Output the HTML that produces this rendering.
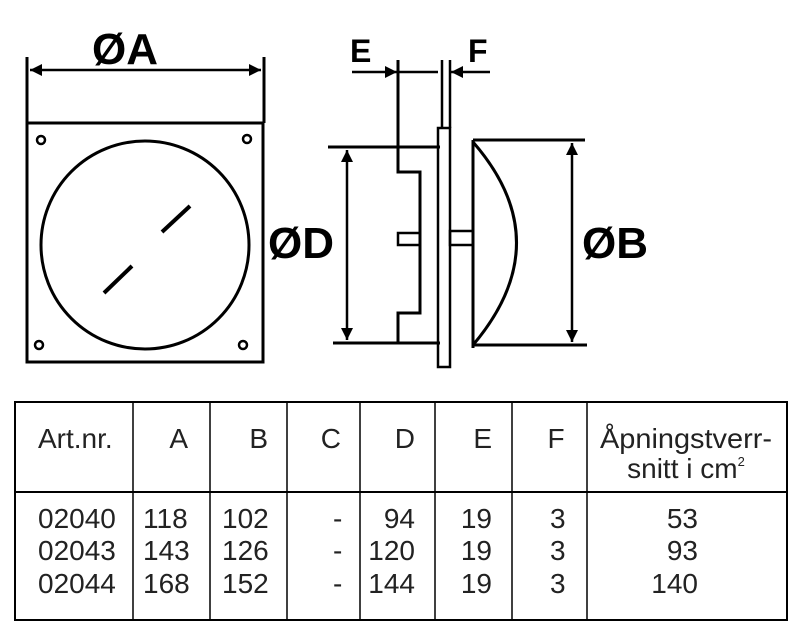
<!DOCTYPE html>
<html><head><style>
body{margin:0;background:#fff;width:800px;height:640px;overflow:hidden;font-family:"Liberation Sans",sans-serif}
svg{position:absolute;left:0;top:0}
</style></head><body>
<svg width="800" height="640" viewBox="0 0 800 640">
<defs>
<marker id="ar" viewBox="0 0 10 10" refX="10" refY="5" markerWidth="16" markerHeight="12" orient="auto-start-reverse" markerUnits="userSpaceOnUse"><path d="M0,0 L10,5 L0,10 z" fill="#000"/></marker>
</defs>
<g stroke="#000" stroke-width="3" fill="none">
<rect x="27" y="123" width="236" height="239"/>
<line x1="27" y1="57" x2="27" y2="123"/><line x1="264" y1="57" x2="264" y2="123"/>
<line x1="30" y1="70" x2="261" y2="70" marker-start="url(#ar)" marker-end="url(#ar)" stroke-width="2.5"/>
<circle cx="145" cy="245" r="104"/>
<circle cx="41" cy="140" r="4" stroke-width="2.5"/><circle cx="247" cy="139" r="4" stroke-width="2.5"/>
<circle cx="39" cy="345" r="4" stroke-width="2.5"/><circle cx="243" cy="345" r="4" stroke-width="2.5"/>
<line x1="190" y1="206" x2="162" y2="232" stroke-width="4"/>
<line x1="132" y1="266" x2="104" y2="293" stroke-width="4"/>
<line x1="328" y1="147" x2="440" y2="147"/><line x1="333" y1="343" x2="440" y2="343"/>
<line x1="347" y1="150" x2="347" y2="340" marker-start="url(#ar)" marker-end="url(#ar)" stroke-width="2.5"/>
<polyline points="398,60 398,172 420,172 420,313 398,313 398,343"/>
<rect x="438" y="128" width="12" height="239" stroke-width="2.5"/>
<line x1="442" y1="60" x2="442" y2="128" stroke-width="2.5"/><line x1="450" y1="60" x2="450" y2="128" stroke-width="2.5"/>
<rect x="398" y="233" width="22" height="12" stroke-width="2.5"/>
<rect x="450" y="231" width="23" height="14" stroke-width="2.5"/>
<line x1="473" y1="140" x2="473" y2="348"/>
<line x1="473" y1="140" x2="585" y2="140"/><line x1="473" y1="345" x2="587" y2="345"/>
<path d="M473,142 Q560,242 473,345"/>
<line x1="572" y1="143" x2="572" y2="342" marker-start="url(#ar)" marker-end="url(#ar)" stroke-width="2.5"/>
<line x1="352" y1="72" x2="397" y2="72" marker-end="url(#ar)" stroke-width="2.5"/>
<line x1="398" y1="72" x2="438" y2="72" stroke-width="2.5"/>
<line x1="490" y1="72" x2="451" y2="72" marker-end="url(#ar)" stroke-width="2.5"/>
<rect x="15" y="402" width="772" height="218" stroke-width="2"/>
<line x1="15" y1="492" x2="787" y2="492" stroke-width="2"/>
<g stroke-width="1.5">
<line x1="133" y1="402" x2="133" y2="620"/><line x1="210" y1="402" x2="210" y2="620"/>
<line x1="287" y1="402" x2="287" y2="620"/><line x1="360" y1="402" x2="360" y2="620"/>
<line x1="435" y1="402" x2="435" y2="620"/><line x1="512" y1="402" x2="512" y2="620"/>
<line x1="587" y1="402" x2="587" y2="620"/>
</g>
</g>
<g font-family="Liberation Sans, sans-serif" font-weight="bold" font-size="44" fill="#000">
<text x="92" y="64">ØA</text>
<text x="268" y="258">ØD</text>
<text x="582" y="258">ØB</text>
<text x="350" y="62" font-size="32">E</text>
<text x="468" y="62" font-size="32">F</text>
</g>
<g font-family="Liberation Sans, sans-serif" font-size="28" fill="#222">
<text x="38" y="448">Art.nr.</text>
<text x="188" y="448" text-anchor="end">A</text>
<text x="268" y="448" text-anchor="end">B</text>
<text x="341" y="448" text-anchor="end">C</text>
<text x="415" y="448" text-anchor="end">D</text>
<text x="492" y="448" text-anchor="end">E</text>
<text x="556" y="448" text-anchor="middle">F</text>
<text x="686" y="448" text-anchor="middle" textLength="172" lengthAdjust="spacingAndGlyphs">Åpningstverr-</text>
<text x="686" y="478" text-anchor="middle">snitt i cm<tspan font-size="13" dy="-12">2</tspan></text>
<text x="38" y="528">02040</text><text x="38" y="560">02043</text><text x="38" y="593">02044</text>
<text x="143" y="528">118</text><text x="143" y="560">143</text><text x="143" y="593">168</text>
<text x="222" y="528">102</text><text x="222" y="560">126</text><text x="222" y="593">152</text>
<text x="333" y="528">-</text><text x="333" y="560">-</text><text x="333" y="593">-</text>
<text x="415" y="528" text-anchor="end">94</text><text x="415" y="560" text-anchor="end">120</text><text x="415" y="593" text-anchor="end">144</text>
<text x="492" y="528" text-anchor="end">19</text><text x="492" y="560" text-anchor="end">19</text><text x="492" y="593" text-anchor="end">19</text>
<text x="550" y="528">3</text><text x="550" y="560">3</text><text x="550" y="593">3</text>
<text x="698" y="528" text-anchor="end">53</text><text x="698" y="560" text-anchor="end">93</text><text x="698" y="593" text-anchor="end">140</text>
</g>
</svg>
</body></html>
